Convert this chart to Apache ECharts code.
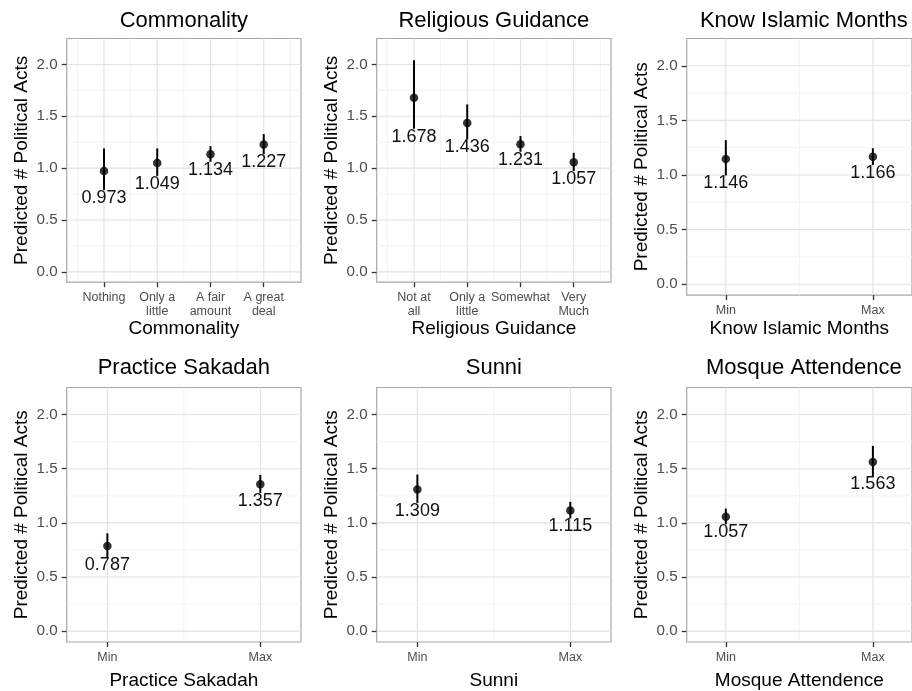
<!DOCTYPE html>
<html>
<head>
<meta charset="utf-8">
<script src="https://cdn.jsdelivr.net/npm/echarts@6/dist/echarts.min.js"></script>
<style>html,body{margin:0;padding:0;background:#fff}#c{width:912px;height:691px}</style>
</head>
<body>
<div id="c"></div>
<script>
// ---- data ----
const panelTitles = ['Commonality', 'Religious Guidance', 'Know Islamic Months', 'Practice Sakadah', 'Sunni', 'Mosque Attendence'];
const yAxisTitle = 'Predicted # Political Acts';

const commonalityCats = ['Nothing', 'Only a\nlittle', 'A fair\namount', 'A great\ndeal'];
const commonalityFit = [0.973, 1.049, 1.134, 1.227];
const commonalityLower = [0.79, 0.925, 1.061, 1.134];
const commonalityUpper = [1.19, 1.19, 1.212, 1.328];

const guidanceCats = ['Not at\nall', 'Only a\nlittle', 'Somewhat', 'Very\nMuch'];
const guidanceFit = [1.678, 1.436, 1.231, 1.057];
const guidanceLower = [1.38, 1.278, 1.158, 0.973];
const guidanceUpper = [2.041, 1.614, 1.309, 1.148];

const minMaxCats = ['Min', 'Max'];
const monthsFit = [1.146, 1.166];
const monthsLower = [0.996, 1.092];
const monthsUpper = [1.319, 1.245];

const sakadahFit = [0.787, 1.357];
const sakadahLower = [0.685, 1.276];
const sakadahUpper = [0.904, 1.443];

const sunniFit = [1.309, 1.115];
const sunniLower = [1.185, 1.041];
const sunniUpper = [1.446, 1.194];

const mosqueFit = [1.057, 1.563];
const mosqueLower = [0.987, 1.428];
const mosqueUpper = [1.132, 1.711];

const yTicks = [0, 0.5, 1.0, 1.5, 2.0];
const yMinorTicks = [0.25, 0.75, 1.25, 1.75];

// ---- build ----
const FONT = '"Liberation Sans", Arial, Helvetica, sans-serif';
const panels = [
  { cats: commonalityCats, fit: commonalityFit, lower: commonalityLower, upper: commonalityUpper },
  { cats: guidanceCats, fit: guidanceFit, lower: guidanceLower, upper: guidanceUpper },
  { cats: minMaxCats, fit: monthsFit, lower: monthsLower, upper: monthsUpper },
  { cats: minMaxCats, fit: sakadahFit, lower: sakadahLower, upper: sakadahUpper },
  { cats: minMaxCats, fit: sunniFit, lower: sunniLower, upper: sunniUpper },
  { cats: minMaxCats, fit: mosqueFit, lower: mosqueLower, upper: mosqueUpper }
];

const colLeft = [66.7, 376.7, 686.7];
const plotW = 234.3;
const Y_MIN = -0.1, Y_MAX = 2.25;

const grids = [], xAxes = [], yAxes = [], titles = [], series = [];

panels.forEach((p, i) => {
  const row = Math.floor(i / 3), col = i % 3;
  const n = p.cats.length;
  const twoLine = p.cats.some(c => c.indexOf('\n') >= 0);
  const top = row === 0 ? 38.5 : 387.5;
  const height = twoLine ? 243.7 : 256.6;
  const left = colLeft[col];
  grids.push({ left: left, top: top, width: plotW, height: height, show: true,
    borderColor: '#A8A8A8', borderWidth: 1.2, backgroundColor: '#fff' });

  const xs = p.cats.map((c, k) => k + 1);
  const pad = n === 4 ? 0.7 : 0.266;
  const xMin = 1 - pad, xMax = n + pad;
  const xMinor = [];
  for (let k = 0; k <= n; k++) { const v = k + 0.5; if (v > xMin && v < xMax) xMinor.push(v); }

  const axisTitleGap = row === 0 ? (twoLine ? 37 : 24) : 29;
  xAxes.push({
    gridIndex: i, type: 'value', min: xMin, max: xMax, position: 'bottom',
    axisLine: { show: false, onZero: false }, splitLine: { show: false },
    axisTick: { show: true, customValues: xs, length: 5, lineStyle: { color: '#333', width: 1.3 } },
    axisLabel: { show: true, customValues: xs, formatter: v => p.cats[Math.round(v) - 1] || '',
      fontSize: 12.5, lineHeight: 14.5, color: '#4D4D4D', margin: 8, fontFamily: FONT },
    name: panelTitles[i], nameLocation: 'middle', nameGap: axisTitleGap, nameMoveOverlap: false,
    nameTextStyle: { fontSize: 19, color: '#000', fontFamily: FONT }
  });
  yAxes.push({
    gridIndex: i, type: 'value', min: Y_MIN, max: Y_MAX, position: 'left',
    axisLine: { show: false, onZero: false }, splitLine: { show: false },
    axisTick: { show: true, customValues: yTicks, length: 5, lineStyle: { color: '#333', width: 1.3 } },
    axisLabel: { show: true, customValues: yTicks, formatter: v => v.toFixed(1),
      fontSize: 15.2, color: '#4D4D4D', margin: 9, fontFamily: FONT },
    name: yAxisTitle, nameLocation: 'middle', nameGap: 35, nameMoveOverlap: false,
    nameTextStyle: { fontSize: 19, color: '#000', fontFamily: FONT }
  });
  titles.push({ text: panelTitles[i], left: left + plotW / 2, top: row === 0 ? 10 : 357,
    textAlign: 'center', padding: 0,
    textStyle: { fontSize: 22, fontWeight: 'normal', color: '#000', fontFamily: FONT } });

  // gridlines
  const gl = [];
  xs.forEach(v => gl.push([0, v, 1]));
  xMinor.forEach(v => gl.push([0, v, 0]));
  yTicks.forEach(v => gl.push([1, v, 1]));
  yMinorTicks.forEach(v => gl.push([1, v, 0]));
  series.push({
    type: 'custom', xAxisIndex: i, yAxisIndex: i, z: 1, silent: true,
    data: gl,
    renderItem: (params, api) => {
      const cs = params.coordSys;
      const o = api.value(0), v = api.value(1), major = api.value(2) === 1;
      const style = { stroke: major ? '#E2E2E2' : '#F0F0F0', lineWidth: major ? 1.1 : 0.8 };
      if (o === 0) {
        const x = api.coord([v, 0])[0];
        return { type: 'line', shape: { x1: x, y1: cs.y, x2: x, y2: cs.y + cs.height }, style };
      }
      const y = api.coord([xMin, v])[1];
      return { type: 'line', shape: { x1: cs.x, y1: y, x2: cs.x + cs.width, y2: y }, style };
    }
  });
  // error bars
  series.push({
    type: 'custom', xAxisIndex: i, yAxisIndex: i, z: 3, silent: true,
    data: xs.map((x, k) => [x, p.lower[k], p.upper[k]]),
    renderItem: (params, api) => {
      const a = api.coord([api.value(0), api.value(1)]);
      const b = api.coord([api.value(0), api.value(2)]);
      return { type: 'line', shape: { x1: a[0], y1: a[1], x2: b[0], y2: b[1] },
        style: { stroke: '#000', lineWidth: 2 } };
    }
  });
  // points
  series.push({
    type: 'scatter', xAxisIndex: i, yAxisIndex: i, z: 4, silent: true,
    data: xs.map((x, k) => [x, p.fit[k]]),
    symbol: 'circle', symbolSize: 8.5, itemStyle: { color: '#000' }
  });
  // value labels
  series.push({
    type: 'custom', xAxisIndex: i, yAxisIndex: i, z: 5, silent: true,
    data: xs.map((x, k) => [x, p.lower[k], p.fit[k]]),
    renderItem: (params, api) => {
      const c = api.coord([api.value(0), api.value(1)]);
      return { type: 'text', x: c[0], y: c[1] - 1,
        style: { text: api.value(2).toFixed(3), align: 'center', verticalAlign: 'top',
          fontSize: 18, fontFamily: FONT, fill: '#111' } };
    }
  });
});

const chart = echarts.init(document.getElementById('c'), null, { renderer: 'canvas' });
chart.setOption({
  animation: false,
  backgroundColor: '#fff',
  title: titles,
  grid: grids,
  xAxis: xAxes,
  yAxis: yAxes,
  series: series
});
</script>
</body>
</html>
